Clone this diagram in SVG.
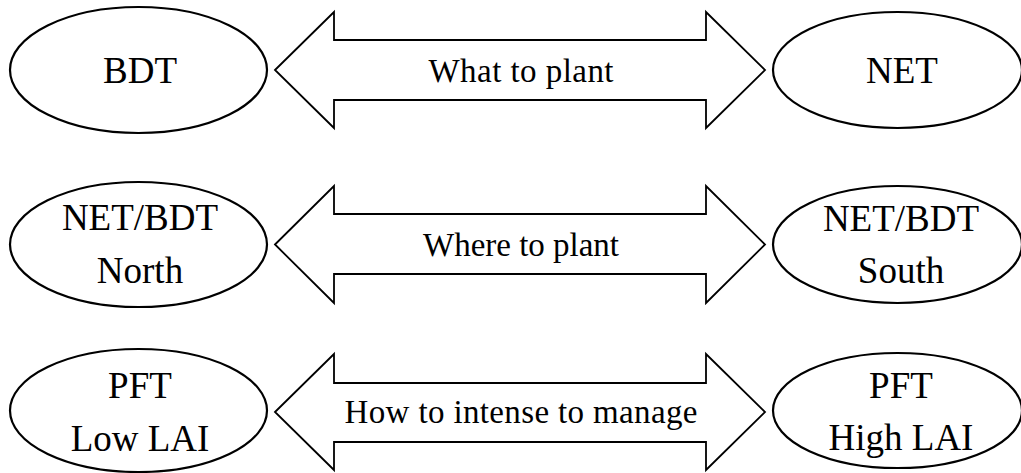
<svg xmlns="http://www.w3.org/2000/svg" width="1021" height="473" viewBox="0 0 1021 473">
<style>
.node{fill:#fff;stroke:#000;stroke-width:2.2}
.arrow{fill:#fff;stroke:#000;stroke-width:1.8;stroke-linejoin:miter}
.t{font-family:"Liberation Serif","Times New Roman",serif;font-size:37px;fill:#000;text-anchor:middle}
.lbl{font-family:"Liberation Serif","Times New Roman",serif;font-size:33px;fill:#000;text-anchor:middle}
</style>
<rect width="1021" height="473" fill="#fff"/>
<g id="connectors">
<g id="arrow-what">
<path class="arrow" d="M275,70 L334,12 L334,40 L706,40 L706,12 L765,70 L706,128 L706,100 L334,100 L334,128 Z"/>
<text class="lbl" x="521" y="82" textLength="185" lengthAdjust="spacing">What to plant</text>
</g>
<g id="arrow-where">
<path class="arrow" d="M275,244.5 L334,186 L334,214 L706,214 L706,186 L765,244.5 L706,303 L706,274 L334,274 L334,303 Z"/>
<text class="lbl" x="521" y="256" textLength="196" lengthAdjust="spacing">Where to plant</text>
</g>
<g id="arrow-how">
<path class="arrow" d="M275,412 L334,354 L334,383 L706,383 L706,354 L765,412 L706,470 L706,442 L334,442 L334,470 Z"/>
<text class="lbl" x="521" y="423" textLength="353" lengthAdjust="spacing">How to intense to manage</text>
</g>
</g>
<g id="bdt">
<ellipse class="node" cx="138.5" cy="70" rx="128.5" ry="63"/>
<text class="t" x="140" y="83">BDT</text>
</g>
<g id="net">
<ellipse class="node" cx="897.5" cy="70" rx="124.5" ry="58"/>
<text class="t" x="902" y="83">NET</text>
</g>
<g id="north">
<ellipse class="node" cx="138.5" cy="244.5" rx="128.5" ry="62.5"/>
<text class="t" x="140" y="230">NET/BDT</text>
<text class="t" x="140" y="283">North</text>
</g>
<g id="south">
<ellipse class="node" cx="897.5" cy="244.5" rx="124.5" ry="58.5"/>
<text class="t" x="901" y="231">NET/BDT</text>
<text class="t" x="901" y="283">South</text>
</g>
<g id="low">
<ellipse class="node" cx="138.5" cy="410.5" rx="128.5" ry="61.5"/>
<text class="t" x="140" y="398">PFT</text>
<text class="t" x="140" y="451">Low LAI</text>
</g>
<g id="high">
<ellipse class="node" cx="897.5" cy="410.5" rx="124.5" ry="57.5"/>
<text class="t" x="901" y="398">PFT</text>
<text class="t" x="901" y="450">High LAI</text>
</g>
</svg>
